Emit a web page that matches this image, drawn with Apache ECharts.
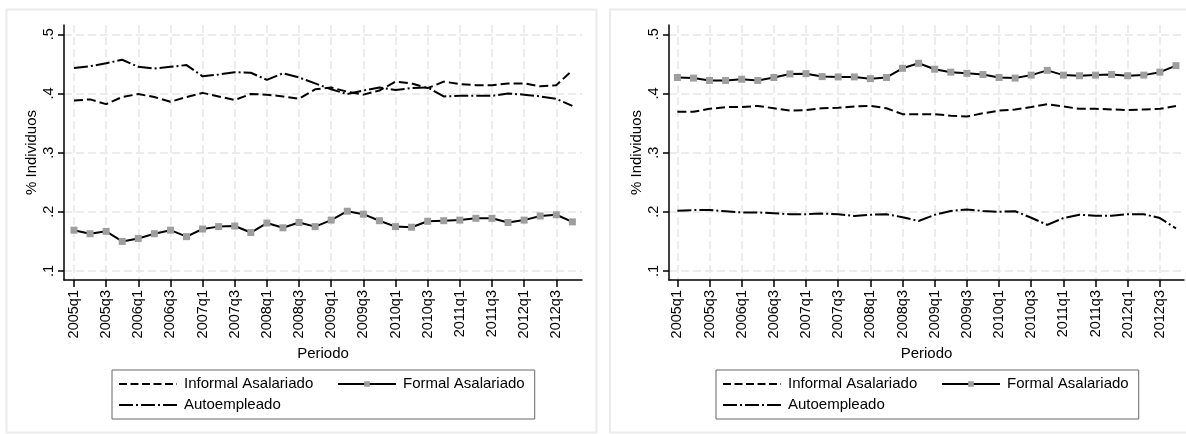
<!DOCTYPE html>
<html><head><meta charset="utf-8">
<script src="https://cdn.jsdelivr.net/npm/echarts@6/dist/echarts.min.js"></script>
<style>html,body{margin:0;padding:0;background:#fff}#c{width:1186px;height:434px}</style>
</head><body><div id="c"></div>
<script>
// ---------- DATA ----------
const quarters = ['2005q1','2005q2','2005q3','2005q4','2006q1','2006q2','2006q3','2006q4',
  '2007q1','2007q2','2007q3','2007q4','2008q1','2008q2','2008q3','2008q4',
  '2009q1','2009q2','2009q3','2009q4','2010q1','2010q2','2010q3','2010q4',
  '2011q1','2011q2','2011q3','2011q4','2012q1','2012q2','2012q3','2012q4'];
const xTickIdx = [0,2,4,6,8,10,12,14,16,18,20,22,24,26,28,30];
const yTicks = [0.1,0.2,0.3,0.4,0.5];
const seriesNames = ['Informal Asalariado','Formal Asalariado','Autoempleado'];

const leftInformal = [0.388,0.390,0.382,0.394,0.399,0.394,0.386,0.394,0.401,0.395,0.389,0.399,0.398,0.395,0.391,0.407,0.410,0.403,0.398,0.405,0.420,0.417,0.409,0.420,0.416,0.414,0.414,0.417,0.417,0.412,0.414,0.439];
const leftFormal   = [0.169,0.163,0.167,0.150,0.155,0.163,0.169,0.158,0.171,0.175,0.176,0.165,0.181,0.173,0.182,0.175,0.186,0.201,0.196,0.185,0.175,0.174,0.184,0.185,0.186,0.189,0.189,0.182,0.186,0.193,0.195,0.183];
const leftAuto     = [0.443,0.446,0.451,0.457,0.445,0.442,0.445,0.448,0.429,0.432,0.436,0.435,0.423,0.434,0.427,0.417,0.407,0.399,0.405,0.410,0.406,0.409,0.410,0.395,0.396,0.396,0.396,0.400,0.398,0.395,0.391,0.379];

const rightInformal = [0.369,0.369,0.374,0.377,0.377,0.379,0.375,0.371,0.372,0.375,0.376,0.378,0.379,0.375,0.365,0.365,0.365,0.3625,0.361,0.3665,0.371,0.373,0.377,0.382,0.378,0.374,0.374,0.373,0.372,0.373,0.374,0.379];
const rightFormal   = [0.427,0.426,0.422,0.422,0.424,0.422,0.427,0.433,0.4335,0.4285,0.428,0.428,0.425,0.427,0.4425,0.451,0.441,0.436,0.434,0.432,0.427,0.426,0.431,0.439,0.431,0.430,0.431,0.432,0.430,0.431,0.436,0.447];
const rightAuto     = [0.202,0.203,0.203,0.201,0.199,0.199,0.1975,0.196,0.196,0.197,0.196,0.193,0.195,0.196,0.191,0.1845,0.195,0.2015,0.204,0.2015,0.200,0.201,0.190,0.178,0.1895,0.195,0.1935,0.1935,0.196,0.196,0.1895,0.172];

// ---------- STYLE ----------
const FONT = 'Liberation Sans, Arial, sans-serif';
const GRID_COLOR = '#e6e6e6';
const DASH = [9, 4];
const DASHDOT = [14, 3, 2, 3];
const MARK = '#9e9e9e';

const panels = [
  {left: 64, width: 518, xMin: -0.62, xMax: 31.6, legendLeft: 112, data: [leftInformal, leftFormal, leftAuto]},
  {left: 669, width: 515, xMin: -0.52, xMax: 31.5, legendLeft: 716, data: [rightInformal, rightFormal, rightAuto]}
];

const grid = [], xAxis = [], yAxis = [], series = [], legend = [];
panels.forEach((p, k) => {
  grid.push({left: p.left, top: 25, width: p.width, height: 255, containLabel: false});
  xAxis.push({
    type: 'value', gridIndex: k, min: p.xMin, max: p.xMax,
    name: 'Periodo', nameLocation: 'middle', nameGap: 65,
    nameTextStyle: {fontFamily: FONT, fontSize: 15, color: '#000'},
    axisLine: {show: true, onZero: false, lineStyle: {color: '#000', width: 1.5}},
    axisTick: {show: true, customValues: xTickIdx, length: 7, lineStyle: {color: '#000', width: 1.5}},
    axisLabel: {customValues: xTickIdx, rotate: 90, margin: 10, fontFamily: FONT, fontSize: 14.5, color: '#000',
      formatter: v => quarters[Math.round(v)]},
    splitLine: {show: true, lineStyle: {color: GRID_COLOR, type: [8, 4], width: 1.5}}
  });
  yAxis.push({
    type: 'value', gridIndex: k, min: 0.0848, max: 0.5157,
    name: '% Individuos', nameLocation: 'middle', nameGap: 25,
    nameTextStyle: {fontFamily: FONT, fontSize: 15, color: '#000'},
    axisLine: {show: true, onZero: false, lineStyle: {color: '#000', width: 1.5}},
    axisTick: {show: true, customValues: yTicks, length: 6, lineStyle: {color: '#000', width: 1.5}},
    axisLabel: {customValues: yTicks, rotate: 90, margin: 8, fontFamily: FONT, fontSize: 14.5, color: '#000',
      formatter: v => '.' + Math.round(v * 10)},
    splitLine: {show: true, lineStyle: {color: GRID_COLOR, type: [8, 4], width: 1.5}}
  });
  series.push({
    name: seriesNames[0], type: 'line', xAxisIndex: k, yAxisIndex: k,
    data: p.data[0].map((v, i) => [i, v]), symbol: 'none', silent: true,
    lineStyle: {color: '#000', width: 2, type: DASH}, itemStyle: {color: '#000'}
  });
  series.push({
    name: seriesNames[1], type: 'line', xAxisIndex: k, yAxisIndex: k,
    data: p.data[1].map((v, i) => [i, v]), symbol: 'rect', symbolSize: 7, showSymbol: true, silent: true,
    lineStyle: {color: '#000', width: 2}, itemStyle: {color: MARK}
  });
  series.push({
    name: seriesNames[2], type: 'line', xAxisIndex: k, yAxisIndex: k,
    data: p.data[2].map((v, i) => [i, v]), symbol: 'none', silent: true,
    lineStyle: {color: '#000', width: 2, type: DASHDOT}, itemStyle: {color: '#000'}
  });
  legend.push({
    left: p.legendLeft, top: 370, orient: 'horizontal',
    itemWidth: 58, itemHeight: 7, itemGap: 5,
    padding: [6, 10, 6, 6], borderColor: '#666', borderWidth: 1, backgroundColor: '#fff',
    selectedMode: false,
    textStyle: {fontFamily: FONT, fontSize: 15, color: '#000', lineHeight: 16,
      rich: {w: {width: 148, fontFamily: FONT, fontSize: 15, color: '#000', lineHeight: 16, padding: [0, 0, 0, 2]},
             n: {fontFamily: FONT, fontSize: 15, color: '#000', lineHeight: 16, padding: [0, 0, 0, 2]}}},
    formatter: name => name === seriesNames[0] ? '{w|' + name + '}' : '{n|' + name + '}',
    data: [
      {name: seriesNames[0], itemStyle: {opacity: 0}, lineStyle: {color: '#000', width: 2, type: [8, 3.5]}},
      {name: seriesNames[1], itemStyle: {color: MARK, borderWidth: 0}, lineStyle: {color: '#000', width: 2, type: 'solid'}},
      '',
      {name: seriesNames[2], itemStyle: {opacity: 0}, lineStyle: {color: '#000', width: 2, type: [14, 3, 2, 3]}}
    ]
  });
});

const option = {
  animation: false,
  backgroundColor: '#fff',
  grid, xAxis, yAxis, series, legend,
  graphic: [
    {type: 'rect', silent: true, z: -10, shape: {x: 6.5, y: 9.5, width: 590, height: 423},
      style: {fill: 'none', stroke: '#ebebeb', lineWidth: 2}},
    {type: 'rect', silent: true, z: -10, shape: {x: 610, y: 9.5, width: 600, height: 423},
      style: {fill: 'none', stroke: '#ebebeb', lineWidth: 2}}
  ]
};
const chart = echarts.init(document.getElementById('c'), null, {renderer: 'canvas'});
chart.setOption(option);
</script></body></html>
